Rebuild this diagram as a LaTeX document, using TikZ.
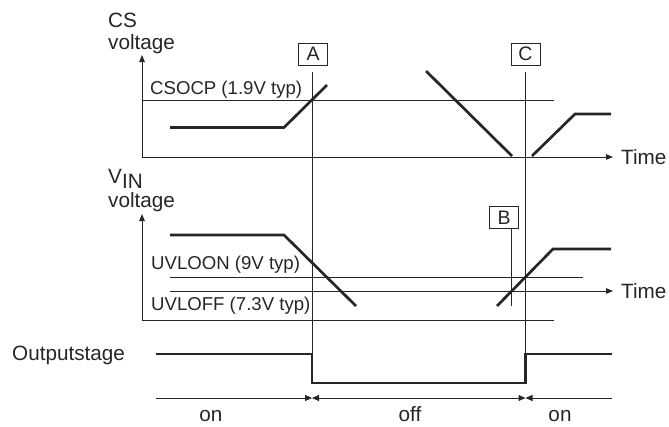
\documentclass[tikz,border=0pt]{standalone}
\usepackage{fontspec}
\setmainfont{Liberation Sans}
\usetikzlibrary{arrows.meta}
\begin{document}
\begin{tikzpicture}[x=1pt,y=-1pt,
  thinline/.style={line width=1pt, color=black!85},
  sig/.style={line width=2.7pt, color=black!85},
  ax/.style={thinline,-{Triangle[length=7pt,width=5.5pt]}},
  lbl/.style={font=\fontsize{20.7}{22}\selectfont, inner sep=0pt, text=black!85},
  thr/.style={font=\fontsize{18.6}{20}\selectfont, inner sep=0pt, text=black!85},
  tagbox/.style={draw=black!85, line width=0.9pt, font=\fontsize{19.5}{21}\selectfont, text=black!85, minimum width=29pt, minimum height=22pt, inner sep=0pt},
  tip/.tip={Triangle[length=7pt,width=6pt]}
]
\useasboundingbox (0,0) rectangle (669,426);

% CS voltage graph
\node[lbl, anchor=base west] (cs1) at (108,27) {CS};
\node[lbl, anchor=base west] (cs2) at (108,49.5) {voltage};
\coordinate (o1) at (142,157);
\coordinate (y1) at (142,55);
\coordinate (x1) at (613,157);
\draw[ax] (o1) -- (y1);
\draw[ax] (o1) -- (x1);
\node[lbl, anchor=base west] (t1) at (621,164) {Time};
\draw[thinline] (142,100) -- (554,100);
\node[thr, anchor=base west] (csocp) at (150,94.5) {CSOCP (1.9V typ)};
\draw[sig] (170,127.5) -- (284,127.5) -- (327,85);
\draw[sig] (426,71) -- (512,156);
\draw[sig] (532,156) -- (575,114) -- (611,114);

% markers
\node[tagbox] (A) at (313,54) {A};
\node[tagbox] (C) at (525.5,54) {C};
\node[tagbox] (B) at (504,217.5) {B};
\draw[thinline] (312,72) -- (312,383);
\draw[thinline] (525.5,72) -- (525.5,383);
\draw[thinline] (511,228) -- (511,306);

% VIN voltage graph
\node[lbl, anchor=base west] (vin) at (108,183) {V\raisebox{-5pt}{IN}};
\node[lbl, anchor=base west] (vv) at (108,207) {voltage};
\coordinate (o2) at (142,320);
\coordinate (y2) at (142,214);
\draw[ax] (o2) -- (y2);
\draw[thinline] (o2) -- (554,320);
\draw[thinline] (170,277) -- (583,277);
\draw[ax] (170,291) -- (613,291);
\node[lbl, anchor=base west] (t2) at (621,298.5) {Time};
\node[thr, anchor=base west] (uvon) at (151,269) {UVLOON (9V typ)};
\node[thr, anchor=base west] (uvoff) at (151,310) {UVLOFF (7.3V typ)};
\draw[sig] (170,235) -- (284,235) -- (356,306);
\draw[sig] (497,306) -- (553,249) -- (611,249);

% Output stage
\node[lbl, anchor=base west] (os) at (12,360) {Outputstage};
\draw[sig] (156,354) -- (312,354) -- (312,383) -- (525.5,383) -- (525.5,354) -- (612,354);
\draw[thinline, -tip] (156,398) -- (312,398);
\draw[thinline, tip-tip] (312,398) -- (525.5,398);
\draw[thinline, tip-] (525.5,398) -- (612,398);
\node[lbl, anchor=base] (on1) at (211,421.5) {on};
\node[lbl, anchor=base] (off) at (410,421.5) {off};
\node[lbl, anchor=base] (on2) at (560,421.5) {on};
\end{tikzpicture}
\end{document}
